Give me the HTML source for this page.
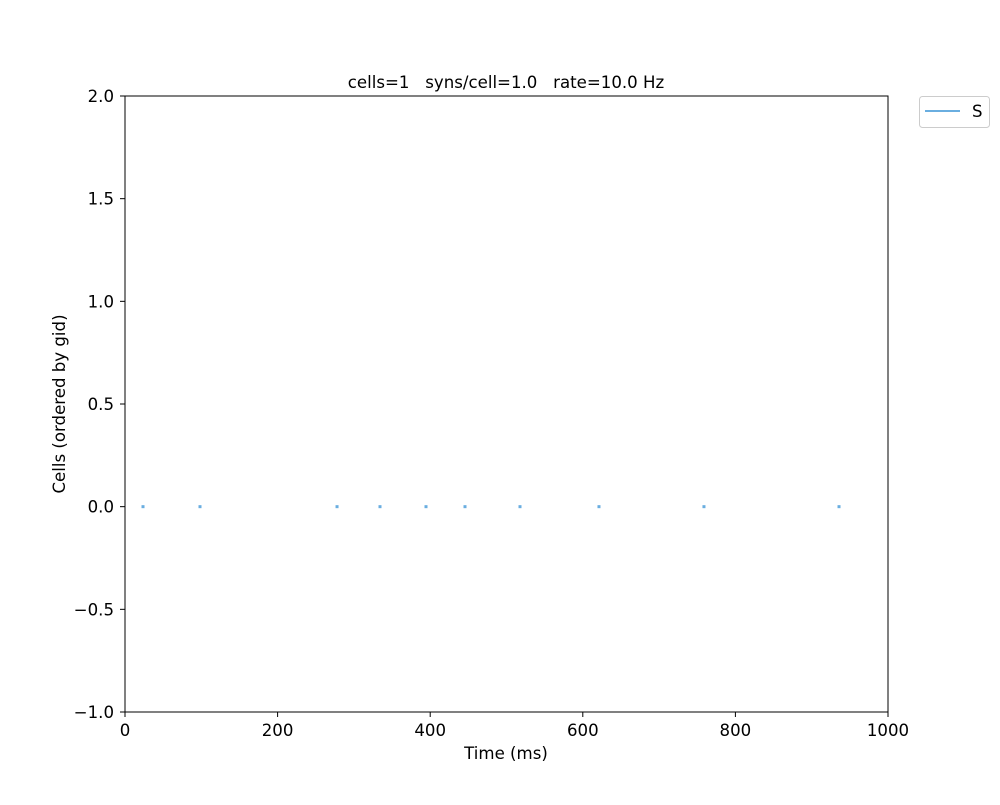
<!DOCTYPE html>
<html><head><meta charset="utf-8"><style>body{margin:0;background:#fff}svg{font-family:"DejaVu Sans","Liberation Sans",sans-serif}</style></head>
<body>
<svg id="chart" width="1000" height="800" xmlns="http://www.w3.org/2000/svg">
<rect width="1000" height="800" fill="#fff"/>
<text x="506" y="88" font-size="16.6" text-anchor="middle" style="white-space:pre">cells=1   syns/cell=1.0   rate=10.0 Hz</text>
<g id="ticks"></g>
<g id="marks"></g>
<rect x="125" y="96" width="763" height="616" fill="none" stroke="#000" stroke-width="1"/>
<text x="506" y="759" font-size="16.6" text-anchor="middle">Time (ms)</text>
<text transform="translate(65,404) rotate(-90)" font-size="16.6" text-anchor="middle">Cells (ordered by gid)</text>
<g>
<rect x="919.5" y="96.5" width="70" height="31" rx="3" fill="#fff" stroke="#ccc"/>
<line x1="925" y1="111" x2="960" y2="111" stroke="#6aaee0" stroke-width="2"/>
<text x="972" y="117" font-size="16.6">S</text>
</g>
</svg>
<script>
const spikeTimes=[23.6,98.3,277.9,334.2,394.5,445.6,517.7,621.2,758.8,935.8];
const spikeCells=[0,0,0,0,0,0,0,0,0,0];
const xTicks=[0,200,400,600,800,1000];
const yTicks=[-1.0,-0.5,0.0,0.5,1.0,1.5,2.0];
const NS="http://www.w3.org/2000/svg";
const X=v=>125+v/1000*763;
const Y=v=>712-(v+1)/3*616;
const tg=document.getElementById('ticks'),mg=document.getElementById('marks');
function mk(t,a,p){const e=document.createElementNS(NS,t);for(const k in a)e.setAttribute(k,a[k]);p.appendChild(e);return e;}
xTicks.forEach(v=>{
 const l=mk('line',{x1:X(v),x2:X(v),y1:712,y2:717,stroke:'#000'},tg);
 
 
 const t=mk('text',{x:X(v),y:736,'font-size':16.6,'text-anchor':'middle'},tg);t.textContent=v;
 
 
});
yTicks.forEach(v=>{
 const l=mk('line',{x1:120,x2:125,y1:Y(v),y2:Y(v),stroke:'#000'},tg);
 
 
 const t=mk('text',{x:114,y:Y(v)+6,'font-size':16.6,'text-anchor':'end'},tg);t.textContent=(v<0?'\u2212':'')+Math.abs(v).toFixed(1);
 
 
});
spikeTimes.forEach((s,i)=>{
 const r=mk('rect',{x:X(s)-1.5,y:Y(spikeCells[i])-1.5,width:3,height:3,fill:'#6aaee0'},mg);
 
 
});
</script>
</body></html>
